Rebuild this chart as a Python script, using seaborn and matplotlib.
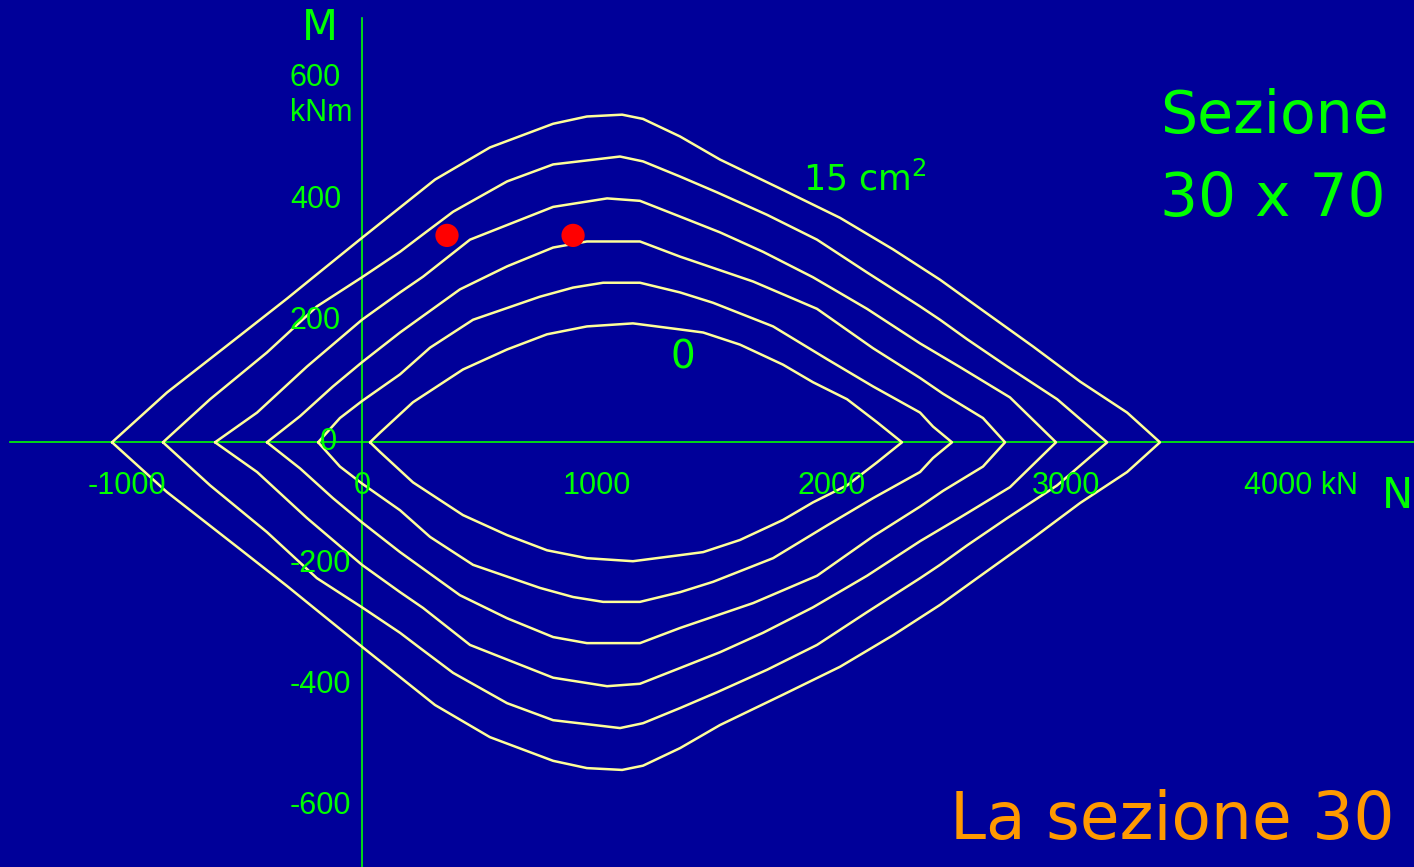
import pandas as pd
import matplotlib
matplotlib.use("Agg")
import matplotlib.pyplot as plt
import seaborn as sns

# domini M-N (metà superiore) - N in kN, M in kNm
n1 = [34, 77, 217, 430, 618, 788, 958, 1154, 1355, 1453, 1610, 1793, 1921, 2066, 2194, 2300]
m1 = [0, 16, 66, 120, 153, 178, 191, 196, 186, 181, 161, 128, 99, 71, 33, 0]

n2 = [-187, -94, 0, 162, 290, 473, 758, 899, 1027, 1184, 1355, 1495, 1751, 1981, 2177, 2377, 2432, 2513]
m2 = [0, 40, 68, 112, 156, 202, 240, 255, 263, 263, 247, 230, 191, 137, 92, 49, 26, 0]

n3 = [-405, -264, -124, 0, 162, 417, 618, 814, 958, 1184, 1355, 1666, 1938, 2177, 2377, 2475, 2645, 2739]
m3 = [0, 43, 92, 132, 181, 252, 290, 321, 331, 331, 306, 265, 220, 155, 106, 80, 40, 0]

n4 = [-626, -447, -234, 0, 162, 260, 460, 814, 1044, 1184, 1355, 1525, 1708, 1921, 2151, 2377, 2547, 2760, 2956]
m4 = [0, 49, 125, 202, 247, 273, 334, 388, 402, 398, 372, 346, 314, 272, 220, 163, 124, 74, 0]

n5 = [-848, -647, -405, -192, 0, 162, 247, 388, 618, 814, 1099, 1197, 1355, 1512, 1725, 1938, 2151, 2377, 2462, 2577, 2748, 2961, 3174]
m5 = [0, 71, 148, 224, 272, 314, 339, 380, 430, 458, 471, 463, 438, 412, 375, 334, 280, 224, 202, 170, 125, 71, 0]

n6 = [-1065, -831, -520, -319, -179, 0, 162, 311, 545, 814, 958, 1108, 1197, 1355, 1525, 1793, 2036, 2262, 2462, 2620, 2858, 3059, 3259, 3399]
m6 = [0, 82, 176, 237, 281, 337, 387, 433, 486, 525, 537, 540, 533, 504, 466, 416, 370, 318, 268, 224, 158, 100, 49, 0]

# punti di verifica (pallini rossi)
punti_N = [362, 899]
punti_M = [341, 341]

x_ticks = [-1500, -1000, -500, 0, 500, 1000, 1500, 2000, 2500, 3000, 3500, 4000]
x_labels = {-1000: "-1000", 0: "0", 1000: "1000", 2000: "2000", 3000: "3000", 4000: "4000 kN"}
y_ticks = list(range(-700, 701, 100))
y_labels = {400: "400", 200: "200", -200: "-200", -400: "-400", -600: "-600", 600: "600"}

BG = "#000099"
GREEN = "#00FF00"
CURVE = "#FFFF99"

# costruzione del dominio chiuso (parte inferiore simmetrica)
rows = []
for name, ns, ms in [("c1", n1, m1), ("c2", n2, m2), ("c3", n3, m3),
                     ("c4", n4, m4), ("c5", n5, m5), ("c6", n6, m6)]:
    for n, m in zip(ns, ms):
        rows.append({"curva": name, "N": n, "M": m})
    for n, m in zip(ns[::-1], ms[::-1]):
        rows.append({"curva": name, "N": n, "M": -m})
df = pd.DataFrame(rows)

sns.set_style("white")
plt.rcParams["font.family"] = ["DejaVu Sans"]

fig = plt.figure(figsize=(14.14, 8.67), dpi=100)
fig.patch.set_facecolor(BG)
ax = fig.add_axes([0, 0, 1, 1])
ax.set_facecolor(BG)

sns.lineplot(data=df, x="N", y="M", hue="curva", sort=False, estimator=None,
             palette={c: CURVE for c in df["curva"].unique()}, linewidth=1.8,
             legend=False, ax=ax, zorder=3)
sns.scatterplot(x=punti_N, y=punti_M, color="red", s=280, edgecolor="none",
                ax=ax, zorder=5)

ax.set_xlim(-1542, 4481)
ax.set_ylim(-698, 729)

# assi passanti per l'origine
for s in ["top", "right"]:
    ax.spines[s].set_visible(False)
ax.spines["left"].set_position(("data", 0))
ax.spines["bottom"].set_position(("data", 0))
ax.spines["left"].set_bounds(-700, 700)
ax.spines["bottom"].set_bounds(-1500, 4481)
for s in ["left", "bottom"]:
    ax.spines[s].set_color(GREEN)
    ax.spines[s].set_linewidth(1.2)
    ax.spines[s].set_zorder(2)

ax.set_xticks(x_ticks)
ax.set_yticks(y_ticks)
ax.tick_params(axis="both", colors=GREEN, direction="out", length=6, width=1.2,
               labelbottom=False, labelleft=False)
ax.set_xlabel("")
ax.set_ylabel("")

lab_font = dict(family="Liberation Sans", fontsize=22, color=GREEN)
for v, t in x_labels.items():
    ax.text(v, -72, t, ha="center", va="center", **lab_font)
for v, t in y_labels.items():
    ax.text(-307, v, t, ha="left", va="center", **lab_font)
ax.text(-307, 543, "kNm", ha="left", va="center", **lab_font)
ax.text(-145, 0, "0", ha="center", va="center", **lab_font)

ax.text(-179, 683, "M", ha="center", va="center", fontsize=30, color=GREEN)
ax.text(4345, -89, "N", ha="left", va="center", fontsize=30, color=GREEN)
ax.text(1879, 433, "15 cm$^2$", ha="left", va="center", fontsize=25, color=GREEN)
ax.text(1367, 140, "0", ha="center", va="center", fontsize=28, color=GREEN)
ax.text(3399, 537, "Sezione", ha="left", va="center", fontsize=42, color=GREEN)
ax.text(3399, 400, "30 x 70", ha="left", va="center", fontsize=43, color=GREEN)
ax.text(2505, -624, "La sezione 30", ha="left", va="center", fontsize=46.5, color="#FF9900")

fig.savefig("out.png", dpi=100, facecolor=BG)
